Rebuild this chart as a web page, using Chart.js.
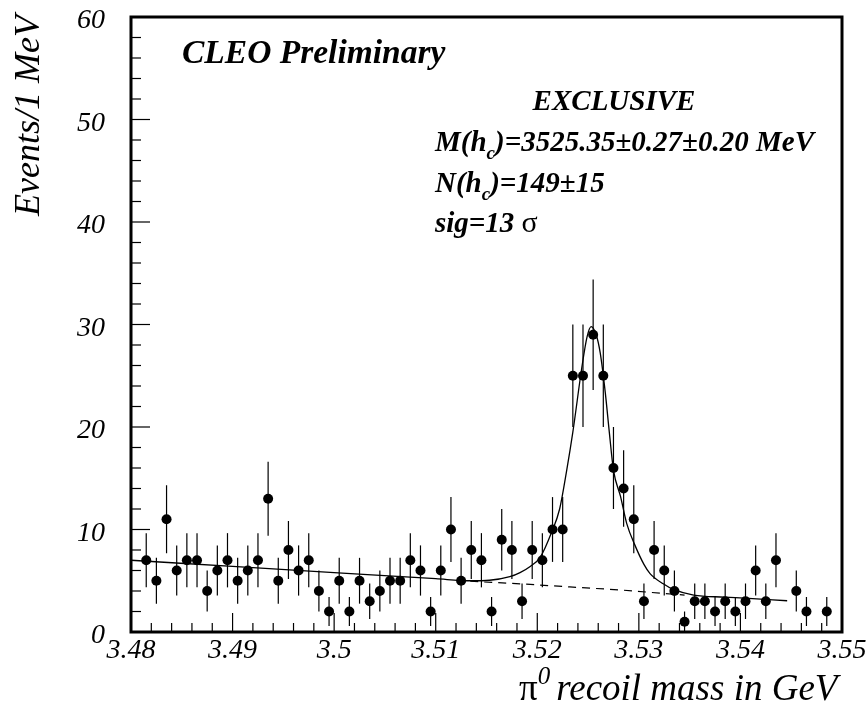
<!DOCTYPE html>
<html>
<head>
<meta charset="utf-8">
<title>h_c recoil mass</title>
<script src="https://cdn.jsdelivr.net/npm/chart.js@4.4.0/dist/chart.umd.min.js"></script>
<style>
  html, body { margin: 0; padding: 0; background: #fff; }
  #wrap { width: 868px; height: 712px; }
</style>
</head>
<body>
<div id="wrap"><canvas id="c" width="868" height="712"></canvas></div>
<script>
// π0 recoil mass histogram, 1 MeV bins starting at 3.481 GeV
const binLow = 3.481;
const binWidth = 0.001;
const counts = [
  7, 5, 11, 6, 7, 7, 4, 6, 7, 5,
  6, 7, 13, 5, 8, 6, 7, 4, 2, 5,
  2, 5, 3, 4, 5, 5, 7, 6, 2, 6,
  10, 5, 8, 7, 2, 9, 8, 3, 8, 7,
  10, 10, 25, 25, 29, 25, 16, 14, 11, 3,
  8, 6, 4, 1, 3, 3, 2, 3, 2, 3,
  6, 3, 7, 0, 4, 2, 0, 2
];

// fitted curve (signal + background), sampled along the drawn line
const fitMass = [3.480, 3.490, 3.500, 3.510, 3.5134, 3.5153, 3.5173, 3.5183, 3.5193, 3.5203,
  3.5214, 3.5222, 3.5229, 3.5235, 3.5244, 3.5249, 3.5253, 3.5258, 3.5262, 3.5267,
  3.5271, 3.5275, 3.5282, 3.5288, 3.5296, 3.5305, 3.5311, 3.5324, 3.5334, 3.5354,
  3.5384, 3.5404, 3.5446];
const fitValue = [7.0, 6.4, 5.8, 5.2, 5.0, 5.05, 5.4, 5.8, 6.4, 7.3,
  9.7, 12.0, 15.8, 19.5, 25.9, 28.8, 29.8, 29.0, 27.2, 23.3,
  19.4, 15.8, 13.2, 10.6, 8.5, 6.6, 5.7, 4.7, 4.15, 3.6,
  3.4, 3.3, 3.05];

// background only, dashed under the peak
const bgMass = [3.5134, 3.5183, 3.5232, 3.5282, 3.5345];
const bgValue = [4.95, 4.7, 4.4, 4.1, 3.6];

const xTickValues = [3.48, 3.49, 3.50, 3.51, 3.52, 3.53, 3.54, 3.55];
const xTickLabels = ['3.48', '3.49', '3.5', '3.51', '3.52', '3.53', '3.54', '3.55'];
const yTickValues = [0, 10, 20, 30, 40, 50, 60];
const yTickLabels = ['0', '10', '20', '30', '40', '50', '60'];

const SERIF = 'Liberation Serif';

const histPoints = [];
counts.forEach((n, i) => {
  if (n > 0) histPoints.push({ x: binLow + (i + 0.5) * binWidth, y: n });
});

// statistical error bars, drawn under the markers
const errorBars = {
  id: 'errorBars',
  beforeDatasetsDraw(chart) {
    const { ctx, scales: { x, y } } = chart;
    ctx.save();
    ctx.strokeStyle = '#000';
    ctx.lineWidth = 1.2;
    histPoints.forEach(p => {
      const e = Math.sqrt(p.y);
      const px = x.getPixelForValue(p.x);
      ctx.beginPath();
      ctx.moveTo(px, y.getPixelForValue(p.y - e));
      ctx.lineTo(px, y.getPixelForValue(p.y + e));
      ctx.stroke();
    });
    ctx.restore();
  }
};

// helper: draw a line of text made of runs with their own font / vertical shift
function drawRuns(ctx, x, y, runs) {
  let cx = x;
  runs.forEach(r => {
    ctx.font = r.font;
    ctx.fillText(r.text, cx, y + (r.dy || 0));
    cx += ctx.measureText(r.text).width + (r.gap || 0);
  });
}

// frame, inward tick marks and all the text
const frameAndText = {
  id: 'frameAndText',
  afterDraw(chart) {
    const { ctx, chartArea: a, scales: { x, y } } = chart;
    ctx.save();
    ctx.strokeStyle = '#000';
    ctx.fillStyle = '#000';

    // ticks on the left edge
    ctx.lineWidth = 1.2;
    for (let v = 2; v < 60; v += 2) {
      const py = y.getPixelForValue(v);
      const len = v % 10 === 0 ? 19 : 10;
      ctx.beginPath();
      ctx.moveTo(a.left, py);
      ctx.lineTo(a.left + len, py);
      ctx.stroke();
    }
    // ticks on the bottom edge
    for (let k = 1; k < 35; k++) {
      const px = x.getPixelForValue(3.48 + k * 0.002);
      const len = k % 5 === 0 ? 19 : 9;
      ctx.beginPath();
      ctx.moveTo(px, a.bottom);
      ctx.lineTo(px, a.bottom - len);
      ctx.stroke();
    }

    ctx.lineWidth = 3;
    ctx.strokeRect(a.left, a.top, a.right - a.left, a.bottom - a.top);

    ctx.textBaseline = 'alphabetic';
    ctx.textAlign = 'left';

    ctx.font = `italic bold 33.5px "${SERIF}"`;
    ctx.fillText('CLEO Preliminary', 182, 63);

    const bi = `italic bold 29px "${SERIF}"`;
    const sub = `italic bold 19px "${SERIF}"`;
    ctx.textAlign = 'center';
    ctx.font = bi;
    ctx.fillText('EXCLUSIVE', 614, 110);
    ctx.textAlign = 'left';
    drawRuns(ctx, 435, 151, [
      { text: 'M(h', font: bi },
      { text: 'c', font: sub, dy: 8 },
      { text: ')=3525.35\u00b10.27\u00b10.20 MeV', font: bi }
    ]);
    drawRuns(ctx, 435, 192, [
      { text: 'N(h', font: bi },
      { text: 'c', font: sub, dy: 8 },
      { text: ')=149\u00b115', font: bi }
    ]);
    drawRuns(ctx, 435, 232, [
      { text: 'sig=13 ', font: bi },
      { text: '\u03c3', font: `30px "${SERIF}"` }
    ]);

    // axis titles
    ctx.font = `italic 36px "${SERIF}"`;
    ctx.save();
    ctx.translate(30, 15);
    ctx.rotate(-Math.PI / 2);
    ctx.textAlign = 'right';
    ctx.textBaseline = 'middle';
    ctx.fillText('Events/1 MeV', 0, 0);
    ctx.restore();

    drawRuns(ctx, 519, 700, [
      { text: '\u03c0', font: `37px "${SERIF}"` },
      { text: '0', font: `italic 25px "${SERIF}"`, dy: -16, gap: 6 },
      { text: 'recoil mass in GeV', font: `italic 37px "${SERIF}"` }
    ]);
    ctx.restore();
  }
};

const tickFont = { family: SERIF, size: 28, style: 'italic' };

new Chart(document.getElementById('c'), {
  type: 'scatter',
  data: {
    datasets: [
      {
        label: 'fit',
        data: fitMass.map((m, i) => ({ x: m, y: fitValue[i] })),
        showLine: true,
        borderColor: '#000',
        borderWidth: 1.3,
        pointRadius: 0,
        cubicInterpolationMode: 'monotone',
        fill: false
      },
      {
        label: 'background',
        data: bgMass.map((m, i) => ({ x: m, y: bgValue[i] })),
        showLine: true,
        borderColor: '#000',
        borderWidth: 1.2,
        borderDash: [8, 6],
        pointRadius: 0,
        fill: false
      },
      {
        label: 'data',
        data: histPoints,
        pointRadius: 5,
        pointBackgroundColor: '#000',
        pointBorderWidth: 0
      }
    ]
  },
  options: {
    responsive: false,
    animation: false,
    devicePixelRatio: 1,
    layout: { padding: { left: 0, right: 26, top: 17, bottom: 0 } },
    plugins: { legend: { display: false }, tooltip: { enabled: false } },
    scales: {
      x: {
        type: 'linear',
        min: 3.48,
        max: 3.55,
        afterBuildTicks: s => { s.ticks = xTickValues.map(v => ({ value: v })); },
        afterFit: s => {
          s.height = 80;
          s.paddingLeft = 0;
          s.paddingRight = 0;
        },
        grid: { display: false, drawTicks: false },
        border: { display: false },
        ticks: {
          autoSkip: false,
          maxRotation: 0,
          padding: 2,
          color: '#000',
          font: tickFont,
          callback: (v, i) => xTickLabels[i]
        }
      },
      y: {
        min: 0,
        max: 60,
        afterBuildTicks: s => { s.ticks = yTickValues.map(v => ({ value: v })); },
        afterFit: s => {
          s.width = 131;
          s.paddingTop = 0;
          s.paddingBottom = 0;
        },
        grid: { display: false, drawTicks: false },
        border: { display: false },
        ticks: {
          padding: 26,
          labelOffset: 4,
          color: '#000',
          font: tickFont,
          callback: (v, i) => yTickLabels[i]
        }
      }
    }
  },
  plugins: [errorBars, frameAndText]
});
</script>
</body>
</html>
